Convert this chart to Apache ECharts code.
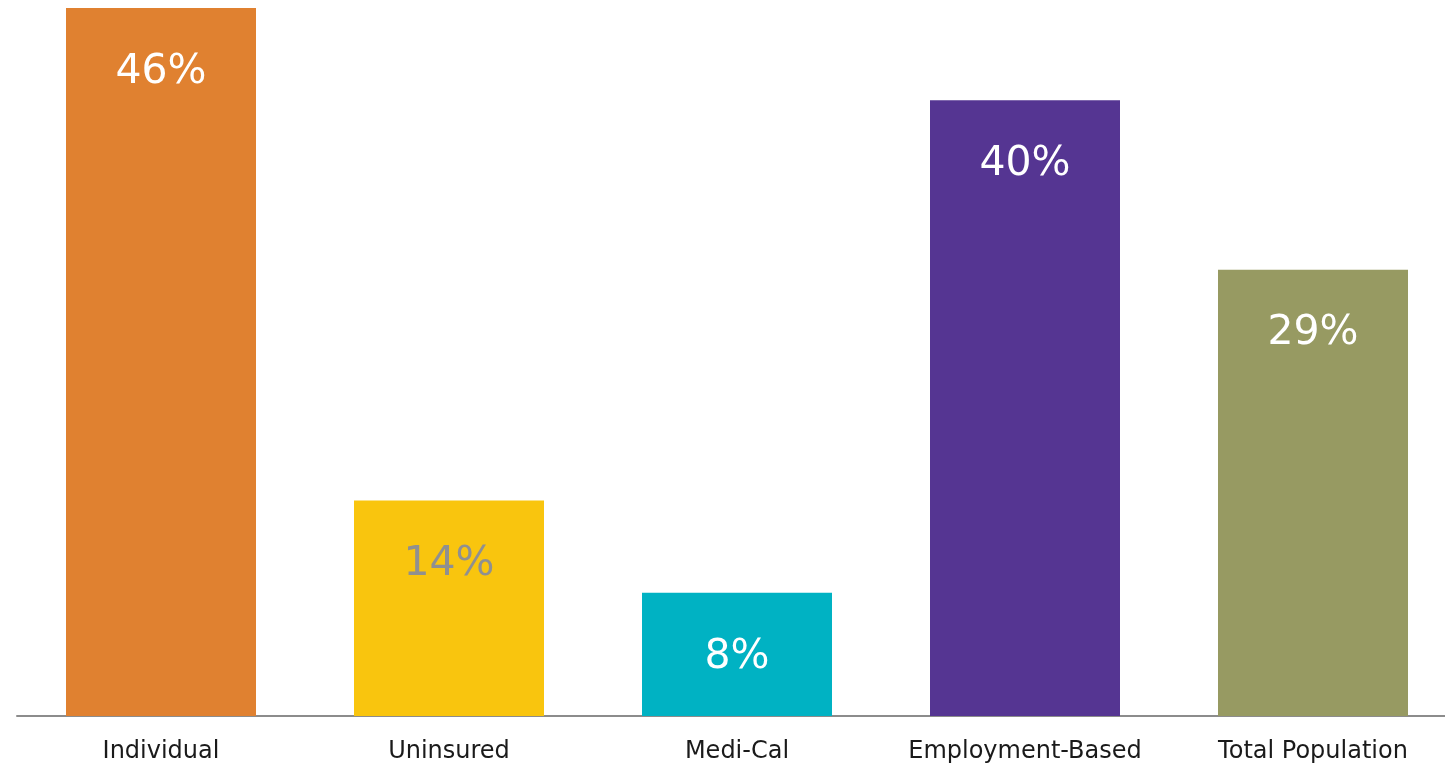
<!DOCTYPE html>
<html>
<head>
<meta charset="utf-8">
<script src="https://cdn.jsdelivr.net/npm/echarts@6/dist/echarts.min.js"></script>
<style>
html,body{margin:0;padding:0;background:#fff;overflow:hidden;width:1445px;height:769px;}
#chart{width:1457px;height:769px;}
</style>
</head>
<body>
<div id="chart"></div>
<script>
const categories = ["Individual", "Uninsured", "Medi-Cal", "Employment-Based", "Total Population"];
const values = [46, 14, 8, 40, 29];
const barColors = ["#E08130", "#F9C50E", "#00B2C3", "#553592", "#979A62"];
const labelColors = ["#ffffff", "#909090", "#ffffff", "#ffffff", "#ffffff"];

const chart = echarts.init(document.getElementById('chart'));
chart.setOption({
  animation: false,
  grid: { left: 17, right: 0, top: 8, bottom: 53, containLabel: false },
  xAxis: {
    type: 'category',
    data: categories,
    axisLine: { show: true, lineStyle: { color: '#8c8c8c', width: 2 } },
    axisTick: { show: false },
    axisLabel: { color: '#1a1a1a', fontFamily: 'DejaVu Sans', fontSize: 24, margin: 24, interval: 0 }
  },
  yAxis: {
    type: 'value', min: 0, max: 46,
    show: false, splitLine: { show: false }
  },
  series: [{
    type: 'bar',
    barWidth: 190,
    data: values.map((v, i) => ({
      value: v,
      itemStyle: { color: barColors[i] },
      label: { color: labelColors[i] }
    })),
    label: {
      show: true,
      position: ['50%', 64],
      align: 'center',
      verticalAlign: 'middle',
      fontFamily: 'DejaVu Sans',
      fontSize: 41,
      formatter: p => p.value + '%'
    }
  }]
});
</script>
</body>
</html>
